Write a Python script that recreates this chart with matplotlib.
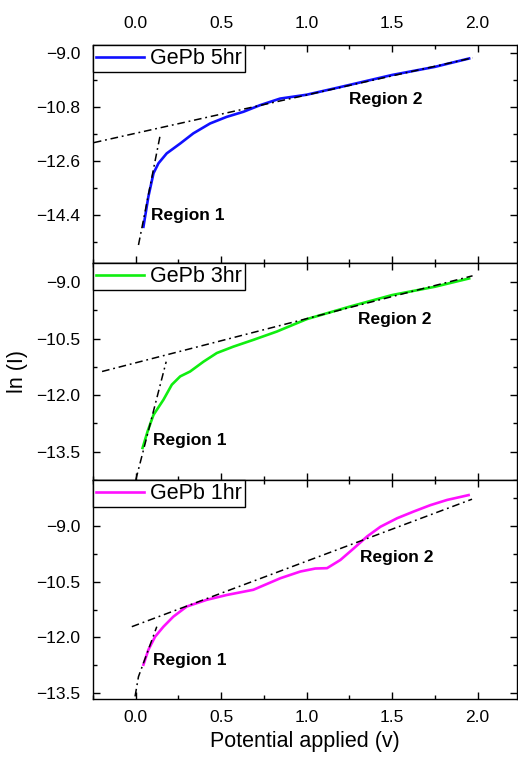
import numpy as np
import matplotlib
matplotlib.use("Agg")
import matplotlib.pyplot as plt
from matplotlib.ticker import MultipleLocator, FuncFormatter

plt.rcParams['font.family'] = ['Liberation Sans', 'DejaVu Sans']

# GePb 5hr (blue)
v5 = [0.045, 0.074, 0.104, 0.133, 0.181, 0.26, 0.337, 0.435, 0.532, 0.63, 0.727,
      0.844, 1.0, 1.2, 1.5, 1.75, 1.95]
i5 = [-14.79, -13.78, -13.0, -12.67, -12.34, -12.01, -11.67, -11.34, -11.12, -10.95,
      -10.73, -10.51, -10.38, -10.12, -9.72, -9.45, -9.17]
fit5_a_x = [0.016, 0.143]
fit5_a_y = [-15.4, -11.73]
fit5_b_x = [-0.245, 1.97]
fit5_b_y = [-11.98, -9.15]

# GePb 3hr (green)
v3 = [0.04, 0.07, 0.104, 0.162, 0.211, 0.26, 0.318, 0.396, 0.474, 0.571, 0.688, 0.825,
      1.0, 1.25, 1.5, 1.75, 1.95]
i3 = [-13.4, -12.95, -12.52, -12.12, -11.72, -11.50, -11.37, -11.11, -10.88, -10.71,
      -10.53, -10.31, -9.98, -9.65, -9.34, -9.12, -8.90]
fit3_a_x = [0.0, 0.178]
fit3_a_y = [-14.25, -11.11]
fit3_b_x = [-0.197, 1.97]
fit3_b_y = [-11.37, -8.83]

# GePb 1hr (magenta)
v1 = [0.045, 0.074, 0.113, 0.162, 0.22, 0.298, 0.415, 0.532, 0.688, 0.846, 0.963,
      1.05, 1.119, 1.197, 1.275, 1.353, 1.431, 1.529, 1.626, 1.723, 1.821, 1.947]
i1 = [-12.73, -12.33, -11.98, -11.71, -11.44, -11.17, -10.99, -10.86, -10.72, -10.41,
      -10.23, -10.15, -10.14, -9.92, -9.61, -9.29, -9.03, -8.80, -8.62, -8.45, -8.31, -8.18]
fit1_a_x = [-0.004, 0.016, 0.123]
fit1_a_y = [-13.58, -13.05, -11.71]
fit1_b_x = [-0.023, 1.967]
fit1_b_y = [-11.71, -8.29]

panels = [
    dict(x=v5, y=i5, color="#1010ff", label="GePb 5hr", ylim=(-16.0, -8.72),
         step=1.8, fa=(fit5_a_x, fit5_a_y), fb=(fit5_b_x, fit5_b_y),
         r1=(0.09, -14.4), r2=(1.246, -10.53)),
    dict(x=v3, y=i3, color="#10ee10", label="GePb 3hr", ylim=(-14.25, -8.49),
         step=1.5, fa=(fit3_a_x, fit3_a_y), fb=(fit3_b_x, fit3_b_y),
         r1=(0.10, -13.2), r2=(1.30, -10.0)),
    dict(x=v1, y=i1, color="#ff10ff", label="GePb 1hr", ylim=(-13.65, -7.775),
         step=1.5, fa=(fit1_a_x, fit1_a_y), fb=(fit1_b_x, fit1_b_y),
         r1=(0.10, -12.62), r2=(1.31, -9.85)),
]

fmt = FuncFormatter(lambda v, p: f"{v:.1f}".replace("-", "\u2212"))

fig = plt.figure(figsize=(5.18, 7.58), dpi=100)
W, H = 518, 758
left, right = 93, 517
bounds = [(45, 263), (263, 480), (480, 699)]
dash = (0, (5, 2.5, 1.2, 2.5))

for k, (p, (top, bot)) in enumerate(zip(panels, bounds)):
    ax = fig.add_axes([left / W, 1 - bot / H, (right - left) / W, (bot - top) / H])
    ax.plot(p["x"], p["y"], color=p["color"], lw=1.9, label=p["label"], zorder=2)
    ax.plot(*p["fa"], color="black", lw=1.1, ls=dash, zorder=3)
    ax.plot(*p["fb"], color="black", lw=1.1, ls=dash, zorder=3)
    ax.text(p["r1"][0], p["r1"][1], "Region 1", fontsize=12.5, fontweight="bold", va="center")
    ax.text(p["r2"][0], p["r2"][1], "Region 2", fontsize=12.5, fontweight="bold", va="center")

    ax.set_xlim(-0.25, 2.23)
    ax.set_ylim(*p["ylim"])
    ax.xaxis.set_major_locator(MultipleLocator(0.5))
    ax.xaxis.set_minor_locator(MultipleLocator(0.25))
    ax.yaxis.set_major_locator(MultipleLocator(p["step"]))
    ax.yaxis.set_minor_locator(MultipleLocator(p["step"] / 2))
    ax.xaxis.set_major_formatter(fmt)
    ax.yaxis.set_major_formatter(fmt)
    ax.tick_params(which="both", direction="in", top=True, right=True, width=1.0)
    ax.tick_params(which="major", length=5)
    ax.tick_params(which="minor", length=3)
    ax.tick_params(axis="y", labelsize=12.5, pad=9)
    ax.tick_params(axis="x", labelsize=12.5, pad=8)
    for s in ax.spines.values():
        s.set_linewidth(1.0)

    if k == 0:
        ax.tick_params(axis="x", labeltop=True, labelbottom=False, pad=10)
    elif k == 1:
        ax.tick_params(axis="x", labelbottom=False)
        ax.set_ylabel("ln (I)", fontsize=15.5, labelpad=6)
    else:
        ax.set_xlabel("Potential applied (v)", fontsize=15.5, labelpad=4)

    leg = ax.legend(loc="upper left", borderaxespad=0, fontsize=15.5, fancybox=False,
                    edgecolor="black", framealpha=1, handlelength=2.2, handletextpad=0.3,
                    borderpad=0.15)
    leg.get_frame().set_linewidth(1.0)

fig.savefig("out.png", dpi=100)
